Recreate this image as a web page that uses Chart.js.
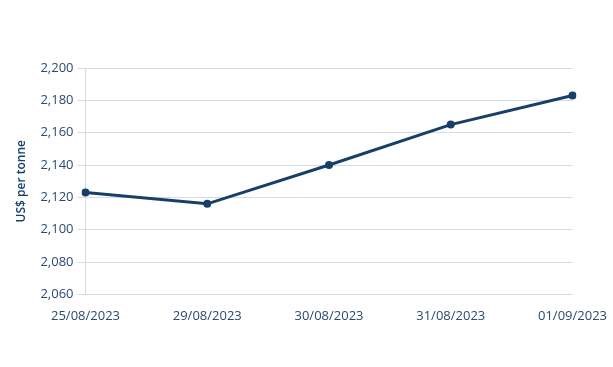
<!DOCTYPE html>
<html><head><meta charset="utf-8">
<script src="https://cdn.jsdelivr.net/npm/chart.js@4"></script>
<style>html,body{margin:0;padding:0;background:#fff}#w{width:613px;height:367px}</style>
</head><body><div id="w"><canvas id="c"></canvas></div>
<script>
const categories = ["25/08/2023","29/08/2023","30/08/2023","31/08/2023","01/09/2023"];
const prices = [2123, 2116, 2140, 2165, 2183];
const yTicks = [2060, 2080, 2100, 2120, 2140, 2160, 2180, 2200];
const yTitle = "US$ per tonne";

const navy = "#183f69";
const textCol = "#2a4a70";
const gridCol = "#d3dbe5";

new Chart(document.getElementById('c'), {
  type: 'line',
  data: { labels: categories, datasets: [{
    data: prices, borderColor: navy, backgroundColor: navy, borderWidth: 3,
    pointRadius: 4, pointBackgroundColor: navy, pointBorderWidth: 0, tension: 0
  }]},
  options: {
    responsive: true, maintainAspectRatio: false, animation: false,
    layout: { padding: { top: 68, right: 40, bottom: 37, left: 14 } },
    plugins: { legend: { display: false }, tooltip: { enabled: false } },
    scales: {
      x: {
        offset: false,
        grid: { display: false },
        border: { display: false },
        ticks: { color: textCol, font: { family: "Open Sans", size: 13 }, maxRotation: 0, padding: 6 }
      },
      y: {
        min: 2060, max: 2200,
        afterBuildTicks: (s) => { s.ticks = yTicks.map(v => ({ value: v })); },
        grid: { color: gridCol, tickLength: 8, tickColor: gridCol },
        border: { display: true, color: gridCol },
        ticks: { color: textCol, font: { family: "Open Sans", size: 13 }, padding: 4,
          callback: (v) => v.toLocaleString('en-US') },
        title: { display: true, text: yTitle, color: navy, font: { family: "Open Sans", size: 12, weight: '600' }, padding: { top: 0, bottom: 8 } }
      }
    }
  }
});
</script></body></html>
